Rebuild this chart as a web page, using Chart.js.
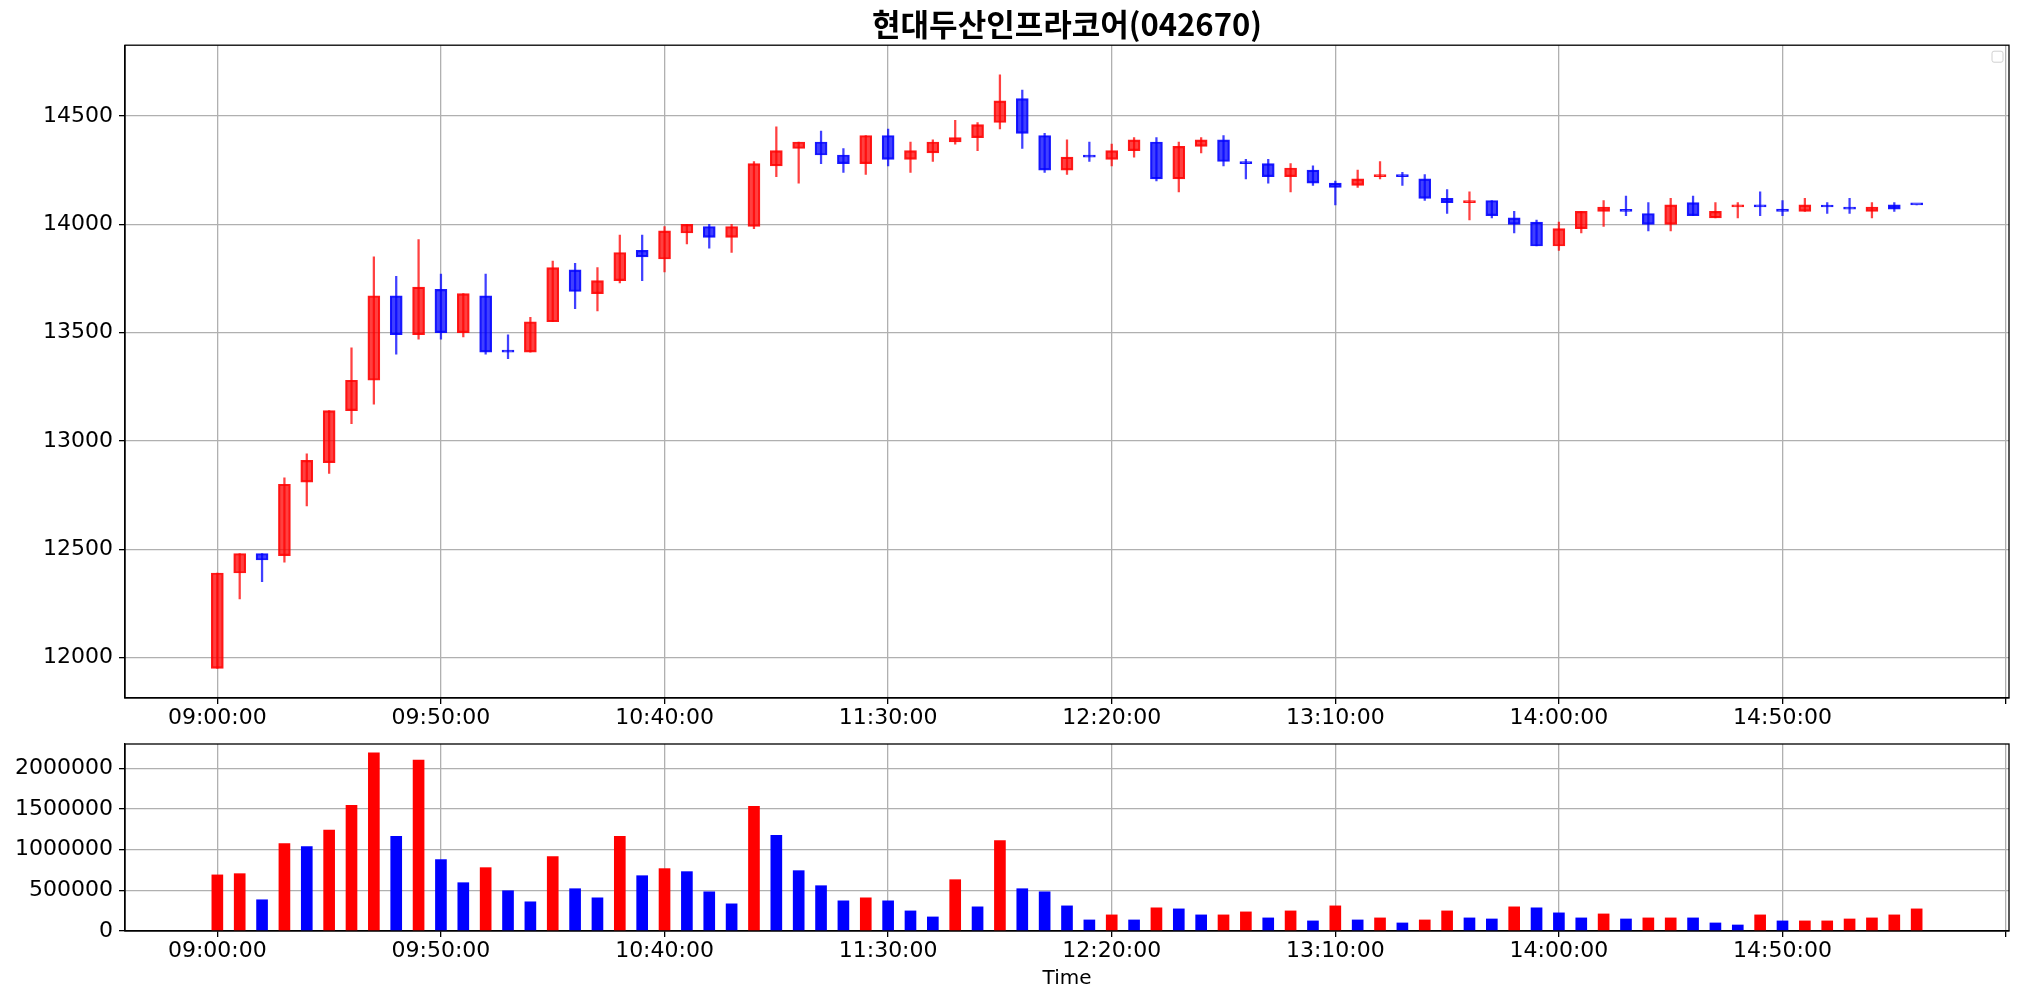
<!DOCTYPE html>
<html>
<head>
<meta charset="utf-8">
<script src="https://cdn.jsdelivr.net/npm/chart.js@4.4.1/dist/chart.umd.min.js"></script>
<style>
  html, body { margin: 0; padding: 0; background: #fff; }
  #wrap { position: relative; width: 2019px; height: 999px; }
  canvas { position: absolute; left: 0; }
</style>
</head>
<body>
<div id="wrap">
  <canvas id="priceChart" width="2019" height="740" style="top:0"></canvas>
  <canvas id="volChart" width="2019" height="259" style="top:740px"></canvas>
</div>
<script>
// 5-minute candles, 09:00:00 .. 15:20:00
const xTickLabels = ["09:00:00", "09:50:00", "10:40:00", "11:30:00", "12:20:00", "13:10:00", "14:00:00", "14:50:00"];
const priceTicks = [12000, 12500, 13000, 13500, 14000, 14500];
const volTicks = [0, 500000, 1000000, 1500000, 2000000];

const opens = [11950, 12390, 12480, 12470, 12810, 12900, 13140, 13280, 13670, 13490,
  13700, 13500, 13670, 13410, 13410, 13550, 13790, 13680, 13740, 13880,
  13840, 13960, 13990, 13940, 13990, 14270, 14350, 14380, 14320, 14280,
  14410, 14300, 14330, 14380, 14400, 14470, 14580, 14410, 14250, 14310,
  14300, 14340, 14380, 14210, 14360, 14390, 14290, 14280, 14220, 14250,
  14190, 14180, 14220, 14230, 14210, 14120, 14100, 14110, 14030, 14010,
  13900, 13980, 14060, 14060, 14050, 14000, 14100, 14030, 14080, 14090,
  14070, 14060, 14080, 14080, 14060, 14090, 14090];

const highs = [12390, 12480, 12480, 12830, 12940, 13140, 13430, 13850, 13760, 13930,
  13770, 13680, 13770, 13490, 13570, 13830, 13820, 13800, 13950, 13950,
  13990, 14000, 14000, 14000, 14290, 14450, 14380, 14430, 14350, 14410,
  14440, 14380, 14390, 14480, 14470, 14690, 14620, 14420, 14390, 14380,
  14370, 14400, 14400, 14380, 14400, 14410, 14300, 14300, 14280, 14270,
  14200, 14250, 14290, 14240, 14230, 14160, 14150, 14110, 14060, 14020,
  14010, 14060, 14110, 14130, 14100, 14120, 14130, 14100, 14100, 14150,
  14110, 14120, 14100, 14120, 14100, 14100, 14090];

const lows = [11950, 12270, 12350, 12440, 12700, 12850, 13080, 13170, 13400, 13470,
  13470, 13480, 13400, 13380, 13410, 13550, 13610, 13600, 13730, 13740,
  13780, 13910, 13890, 13870, 13980, 14220, 14190, 14280, 14240, 14230,
  14270, 14240, 14290, 14370, 14340, 14440, 14350, 14240, 14230, 14290,
  14270, 14310, 14200, 14150, 14330, 14270, 14210, 14190, 14150, 14180,
  14090, 14170, 14210, 14180, 14110, 14050, 14020, 14030, 13960, 13900,
  13880, 13960, 13990, 14040, 13970, 13970, 14040, 14030, 14030, 14040,
  14040, 14060, 14050, 14050, 14030, 14060, 14090];

const closes = [12390, 12480, 12450, 12800, 12910, 13140, 13280, 13670, 13490, 13710,
  13500, 13680, 13410, 13410, 13550, 13800, 13690, 13740, 13870, 13850,
  13970, 14000, 13940, 13990, 14280, 14340, 14380, 14320, 14280, 14410,
  14300, 14340, 14380, 14400, 14460, 14570, 14420, 14250, 14310, 14310,
  14340, 14390, 14210, 14360, 14390, 14290, 14280, 14220, 14260, 14190,
  14170, 14210, 14230, 14220, 14120, 14100, 14110, 14040, 14000, 13900,
  13980, 14060, 14080, 14060, 14000, 14090, 14040, 14060, 14090, 14080,
  14060, 14090, 14080, 14070, 14080, 14070, 14090];

const volumes = [690000, 705000, 384000, 1076000, 1039000, 1241000, 1546000, 2190000, 1163000, 2103000,
  878000, 594000, 779000, 495000, 359000, 915000, 520000, 408000, 1163000, 680000,
  767000, 730000, 482000, 334000, 1534000, 1175000, 742000, 557000, 371000, 408000,
  371000, 247000, 173000, 631000, 297000, 1113000, 520000, 482000, 309000, 136000,
  198000, 136000, 285000, 272000, 198000, 198000, 235000, 161000, 247000, 124000,
  309000, 136000, 161000, 99000, 136000, 247000, 161000, 148000, 297000, 285000,
  223000, 161000, 210000, 148000, 161000, 161000, 161000, 99000, 74000, 198000,
  124000, 124000, 124000, 148000, 161000, 198000, 272000];

// 1 = red volume bar, 0 = blue volume bar
const volUp = [1, 1, 0, 1, 0, 1, 1, 1, 0, 1,
  0, 0, 1, 0, 0, 1, 0, 0, 1, 0,
  1, 0, 0, 0, 1, 0, 0, 0, 0, 1,
  0, 0, 0, 1, 0, 1, 0, 0, 0, 0,
  1, 0, 1, 0, 0, 1, 1, 0, 1, 0,
  1, 0, 1, 0, 1, 1, 0, 0, 1, 0,
  0, 0, 1, 0, 1, 1, 0, 0, 0, 1,
  0, 1, 1, 1, 1, 1, 1];

Chart.defaults.font.family = "'DejaVu Sans', sans-serif";
Chart.defaults.color = '#000';

const idx = opens.map((_, i) => i);
const up = closes.map((c, i) => c > opens[i]);

const framePlugin = {
  id: 'frame',
  afterDraw(chart) {
    const { ctx, chartArea: a } = chart;
    ctx.save();
    ctx.strokeStyle = '#000';
    ctx.lineWidth = 1.3;
    ctx.strokeRect(a.left, a.top, a.right - a.left, a.bottom - a.top);
    ctx.restore();
  }
};

// matplotlib draws an empty legend box when no labels are given
const emptyLegend = {
  id: 'emptyLegend',
  afterDraw(chart) {
    const { ctx, chartArea: a } = chart;
    ctx.save();
    ctx.fillStyle = 'rgba(255,255,255,0.8)';
    ctx.strokeStyle = '#d0d0d0';
    ctx.lineWidth = 1;
    ctx.beginPath();
    ctx.roundRect(a.right - 17, a.top + 6, 11, 11, 2);
    ctx.fill();
    ctx.stroke();
    ctx.restore();
  }
};

function timeAxis(height, title) {
  return {
    type: 'linear',
    min: -4.13,
    max: 80.13,
    offset: false,
    afterFit: s => { s.height = height; s.paddingLeft = 0; s.paddingRight = 0; },
    ticks: {
      stepSize: 10, includeBounds: false, autoSkip: false, maxRotation: 0, padding: 1,
      font: { size: 22 },
      callback: v => xTickLabels[v / 10] ?? ''
    },
    grid: { offset: false, color: '#b0b0b0', lineWidth: 1.3, tickLength: 6, tickColor: '#000', tickWidth: 1.3 },
    border: { color: '#000', width: 1.3 },
    title: title
  };
}

function valueAxis(min, max, tickValues) {
  return {
    min: min,
    max: max,
    afterBuildTicks: s => { s.ticks = tickValues.map(v => ({ value: v })); },
    afterFit: s => { s.width = 125; s.paddingTop = 0; s.paddingBottom = 0; },
    ticks: {
      padding: 6,
      font: { size: 22 },
      callback: v => String(v)
    },
    grid: { color: '#b0b0b0', lineWidth: 1.3, tickLength: 6, tickColor: '#000', tickWidth: 1.3 },
    border: { color: '#000', width: 1.3 }
  };
}

const priceChart = new Chart(document.getElementById('priceChart'), {
  type: 'bar',
  data: {
    datasets: [
      {
        label: 'wick',
        data: idx.map(i => ({ x: i, y: [lows[i], highs[i]] })),
        backgroundColor: up.map(u => u ? 'rgba(255,0,0,0.75)' : 'rgba(0,0,255,0.75)'),
        barThickness: 1.6,
        grouped: false,
        order: 0
      },
      {
        label: 'body',
        data: idx.map(i => ({ x: i, y: [opens[i], closes[i]] })),
        backgroundColor: up.map(u => u ? 'rgba(255,0,0,0.75)' : 'rgba(0,0,255,0.75)'),
        borderColor: up.map(u => u ? 'rgba(255,0,0,0.9)' : 'rgba(0,0,255,0.9)'),
        borderWidth: 1.5,
        borderSkipped: false,
        barThickness: 12,
        minBarLength: 2,
        grouped: false,
        order: 1
      }
    ]
  },
  options: {
    responsive: false,
    animation: false,
    layout: { padding: { left: 0, right: 10, top: 0, bottom: 0 } },
    plugins: {
      legend: { display: false },
      tooltip: { enabled: false },
      title: {
        display: true,
        text: '현대두산인프라코어(042670)',
        fullSize: false,
        color: '#000',
        font: { family: "'Noto Sans CJK KR', sans-serif", size: 31, weight: 'bold' },
        padding: { top: 6, bottom: 2 }
      }
    },
    scales: {
      x: timeAxis(42, { display: false }),
      y: valueAxis(11813, 14827, priceTicks)
    }
  },
  plugins: [framePlugin, emptyLegend]
});

const volChart = new Chart(document.getElementById('volChart'), {
  type: 'bar',
  data: {
    datasets: [{
      label: 'volume',
      data: idx.map(i => ({ x: i, y: volumes[i] })),
      backgroundColor: volUp.map(u => u ? '#ff0000' : '#0000ff'),
      barThickness: 11,
      grouped: false
    }]
  },
  options: {
    responsive: false,
    animation: false,
    layout: { padding: { left: 0, right: 10, top: 4, bottom: 0 } },
    plugins: {
      legend: { display: false },
      tooltip: { enabled: false }
    },
    scales: {
      x: timeAxis(68, { display: true, text: 'Time', color: '#000', font: { size: 20 }, padding: { top: 0, bottom: 8 } }),
      y: valueAxis(0, Math.max(...volumes) * 1.05, volTicks)
    }
  },
  plugins: [framePlugin]
});
</script>
</body>
</html>
